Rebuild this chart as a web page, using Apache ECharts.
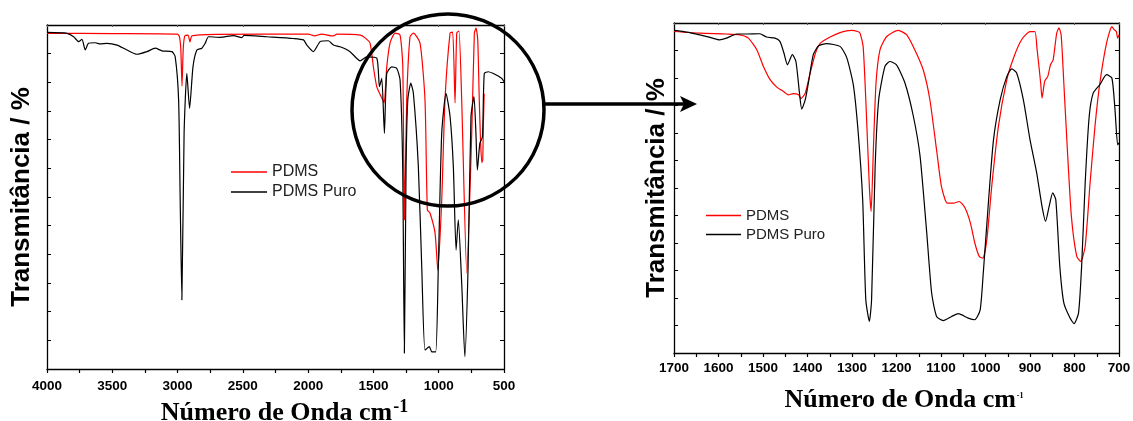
<!DOCTYPE html>
<html>
<head>
<meta charset="utf-8">
<title>FTIR PDMS</title>
<script src="https://cdn.jsdelivr.net/npm/echarts@6/dist/echarts.min.js"></script>
<style>
  html, body { margin: 0; padding: 0; background: #fff; }
  #ir-chart { width: 1133px; height: 421px; }
</style>
</head>
<body>
<div id="ir-chart"></div>
<script>
// legend names
var seriesNames = ['PDMS', 'PDMS Puro'];

// full spectrum (4000 - 500 cm-1), [wavenumber, transmittance a.u.]
var pdmsFull = [
    [4000, 117.1], [3500, 117.0], [3000, 116.8], [2985, 115.8], [2975, 111.3], [2966, 98.7],
    [2957, 111.3], [2945, 116.2], [2920, 116.5], [2905, 114.1], [2890, 116.2], [2700, 116.7],
    [2000, 116.8], [1950, 116.2], [1900, 116.8], [1805, 116.2], [1780, 116.8], [1600, 116.5],
    [1564, 115.5], [1526, 113.7], [1500, 105.3], [1474, 98.4], [1436, 94.5], [1418, 92.8],
    [1398, 105.3], [1373, 113.7], [1334, 117.2], [1296, 116.5], [1275, 105.3], [1263, 52.0],
    [1245, 93.8], [1220, 115.8], [1194, 117.2], [1143, 113.7], [1105, 93.8], [1087, 55.5],
    [1067, 54.4], [1028, 47.4], [1007, 34.5], [977, 58.9], [952, 93.8], [913, 117.2],
    [893, 117.5], [875, 92.8], [862, 117.2], [845, 117.9], [824, 93.8], [785, 33.5],
    [747, 82.3], [727, 117.2], [714, 118.9], [701, 114.8], [690, 95], [680, 80],
    [670, 72], [663, 73], [658, 85], [652, 96]
];
var puroFull = [
    [4000, 117.4], [3847, 117.1], [3796, 115.9], [3758, 114.2], [3732, 115.0], [3707, 111.3],
    [3682, 113.6], [3630, 113.8], [3592, 113.4], [3541, 113.6], [3464, 113.0], [3388, 111.3],
    [3311, 109.8], [3235, 110.7], [3171, 111.9], [3120, 111.0], [3043, 110.7], [3018, 108.9],
    [2992, 93.8], [2980, 59], [2967, 24.1], [2950, 82.3], [2929, 103.1], [2908, 90.9],
    [2882, 105.4], [2852, 111.3], [2814, 111.9], [2789, 113.6], [2763, 115.9], [2674, 115.7],
    [2572, 116.3], [2508, 115.6], [2490, 116.4], [2316, 115.9], [2113, 115.3], [2036, 114.8],
    [2010, 113.0], [1960, 110.7], [1908, 114.2], [1845, 114.5], [1806, 113.0], [1755, 112.4],
    [1679, 110.7], [1602, 107.5], [1551, 108.9], [1474, 108.4], [1454, 98.5], [1436, 101.4],
    [1416, 82.2], [1398, 103.1], [1360, 105.4], [1322, 104.9], [1296, 100.8], [1276, 70.6],
    [1263, 5.5], [1250, 70.6], [1237, 93.8], [1214, 99.7], [1194, 96.2], [1156, 70.6],
    [1130, 35.7], [1105, 6.6], [1072, 7.8], [1053, 6.0], [1023, 6.0], [1003, 35.7],
    [977, 82.2], [944, 96.2], [913, 88.0], [888, 70.6], [867, 41.5], [850, 52.0],
    [824, 29.9], [800, 4.3], [775, 35.7], [753, 88.0], [730, 95.0], [715, 82.2],
    [704, 69.4], [685, 78.7], [665, 81.0], [651, 103.1], [620, 103.7], [582, 103.1],
    [556, 102.5], [518, 101.4], [500, 100.2]
];

// zoomed region (1700 - 700 cm-1)
var pdmsZoom = [
    [1700, 116.9], [1642, 116.3], [1582, 116.0], [1552, 115.7], [1533, 114.5], [1514, 110.3],
    [1499, 104.2], [1484, 99.4], [1469, 96.7], [1454, 95.1], [1443, 93.9], [1432, 94.3],
    [1420, 93.9], [1415, 92.5], [1405, 94.5], [1394, 101.8], [1382, 109.1], [1371, 112.7],
    [1349, 114.9], [1327, 116.5], [1301, 117.3], [1286, 116.8], [1282, 116.3], [1275, 111.5],
    [1269, 92.1], [1261, 60.6], [1257, 51.5], [1252, 73.9], [1246, 98.2], [1237, 110.3],
    [1222, 115.1], [1196, 117.3], [1177, 115.7], [1159, 110.3], [1140, 103.0], [1125, 92.1],
    [1110, 73.9], [1099, 60.6], [1086, 54.5], [1072, 54.5], [1059, 55.1], [1046, 52.7],
    [1034, 47.3], [1024, 40.0], [1014, 35.1], [1006, 34.5], [997, 41.2], [986, 60.6],
    [971, 82.4], [952, 99.4], [937, 107.3], [919, 113.9], [900, 116.9], [889, 116.9],
    [884, 110.3], [876, 98.2], [873, 92.7], [867, 98.8], [860, 100.6], [854, 104.8],
    [848, 106.6], [840, 116.3], [835, 118.2], [830, 115.7], [824, 98.2], [816, 73.9],
    [807, 49.7], [795, 35.1], [786, 33.3], [776, 38.8], [765, 61.8], [754, 82.4],
    [743, 98.2], [728, 112.7], [716, 118.7], [711, 117.6], [706, 116.9], [703, 114.5],
    [700, 115.7]
];
var puroZoom = [
    [1700, 117.3], [1671, 116.7], [1642, 115.7], [1619, 114.8], [1598, 113.9], [1582, 114.5],
    [1559, 116.0], [1537, 116.0], [1507, 116.1], [1492, 114.9], [1473, 114.5], [1462, 113.3],
    [1453, 109.1], [1445, 104.8], [1434, 108.5], [1426, 106.0], [1418, 94.5], [1413, 88.7],
    [1405, 92.1], [1398, 98.2], [1387, 108.5], [1375, 111.7], [1357, 112.5], [1327, 111.5],
    [1312, 107.5], [1297, 97.5], [1286, 80.0], [1276, 55.7], [1269, 19.4], [1261, 11.5],
    [1256, 19.4], [1248, 67.8], [1240, 92.1], [1226, 104.2], [1215, 106.0], [1200, 104.8],
    [1181, 98.2], [1162, 86.0], [1147, 71.5], [1132, 43.6], [1121, 21.8], [1110, 13.3],
    [1095, 11.8], [1076, 13.3], [1061, 14.3], [1039, 12.7], [1024, 12.1], [1012, 15.7],
    [1005, 29.1], [993, 55.7], [982, 77.6], [967, 92.1], [952, 100.6], [941, 103.3],
    [930, 101.8], [915, 92.1], [900, 77.6], [885, 65.5], [873, 53.3], [865, 47.9],
    [857, 53.3], [849, 58.2], [842, 55.7], [833, 31.5], [824, 18.2], [810, 12.7],
    [801, 10.7], [791, 14.5], [784, 31.5], [776, 61.8], [767, 86.0], [758, 94.5],
    [743, 97.6], [728, 101.2], [716, 100.0], [709, 88.5], [703, 75.7], [700, 76.4]
];

var sansFont = 'Liberation Sans, Arial, sans-serif';
var serifFont = 'Liberation Serif, Times New Roman, serif';

function bottomAxis(gridIndex, min, max, interval, labelMargin, nameGap, sup, padLeft) {
    return {
        type: 'value', gridIndex: gridIndex, min: min, max: max, interval: interval,
        inverse: true, position: 'bottom',
        axisLine: { show: true, onZero: false, lineStyle: { color: '#000', width: 1.3 } },
        axisTick: { show: true, inside: false, length: 4, lineStyle: { color: '#000', width: 1.2 } },
        minorTick: { show: true, splitNumber: 2, length: 4, lineStyle: { color: '#000', width: 1.2 } },
        splitLine: { show: false },
        axisLabel: {
            color: '#000', fontWeight: 'bold', fontSize: 13.5, fontFamily: sansFont, margin: labelMargin,
            formatter: function (v) { return String(v); }
        },
        name: '{a|Número de Onda cm}{b|-1}',
        nameLocation: 'middle',
        nameGap: nameGap,
        nameTextStyle: {
            padding: [0, 0, 0, padLeft],
            rich: {
                a: { fontFamily: serifFont, fontWeight: 'bold', fontSize: 26, color: '#000', lineHeight: 30 },
                b: {
                    fontFamily: serifFont, fontWeight: 'bold', fontSize: sup.size, color: '#000',
                    verticalAlign: 'top', lineHeight: sup.size, padding: [sup.drop, 0, 0, 1]
                }
            }
        }
    };
}

function topAxis(gridIndex, min, max, interval) {
    return {
        type: 'value', gridIndex: gridIndex, min: min, max: max, interval: interval,
        inverse: true, position: 'top',
        axisLine: { show: true, onZero: false, lineStyle: { color: '#000', width: 1.3 } },
        axisTick: { show: true, inside: true, length: 2, lineStyle: { color: '#555', width: 1 } },
        splitLine: { show: false },
        axisLabel: { show: false }
    };
}

function sideAxis(gridIndex, position, withName, nameGap) {
    var axis = {
        type: 'value', gridIndex: gridIndex, min: 0, max: 120, interval: 10, position: position,
        axisLine: { show: true, onZero: false, lineStyle: { color: '#000', width: 1.3 } },
        axisTick: { show: true, inside: true, length: 4, lineStyle: { color: '#000', width: 1 } },
        splitLine: { show: false },
        axisLabel: { show: false }
    };
    if (withName) {
        axis.name = 'Transmitância / %';
        axis.nameLocation = 'middle';
        axis.nameGap = nameGap;
        axis.nameTextStyle = { fontFamily: sansFont, fontWeight: 'bold', fontSize: 26, color: '#000' };
    }
    return axis;
}

function spectrum(name, color, data, idx) {
    return {
        name: name, type: 'line', data: data,
        xAxisIndex: idx * 2, yAxisIndex: idx * 2,
        showSymbol: false, smooth: 0.2, animation: false,
        lineStyle: { color: color, width: 1.2 },
        itemStyle: { color: color }
    };
}

var irChart = echarts.init(document.getElementById('ir-chart'));

var option = {
    backgroundColor: '#fff',
    animation: false,
    grid: [
        { left: 47, top: 25, width: 457, height: 344, outerBoundsMode: 'none', containLabel: false },
        { left: 674, top: 23, width: 445, height: 330, outerBoundsMode: 'none', containLabel: false }
    ],
    xAxis: [
        bottomAxis(0, 500, 4000, 500, 10, 25, { size: 18, drop: 0 }, 18),
        topAxis(0, 500, 4000, 500),
        bottomAxis(1, 700, 1700, 100, 8, 32, { size: 8, drop: 7 }, 15),
        topAxis(1, 700, 1700, 100)
    ],
    yAxis: [
        sideAxis(0, 'left', true, 12),
        sideAxis(0, 'right', false),
        sideAxis(1, 'left', true, 4),
        sideAxis(1, 'right', false)
    ],
    legend: [
        {
            data: seriesNames, orient: 'vertical', left: 226, top: 158,
            icon: 'rect', itemWidth: 36, itemHeight: 1.5, itemGap: 2,
            textStyle: { fontFamily: sansFont, fontSize: 16, color: '#222', lineHeight: 18 }
        },
        {
            data: seriesNames, orient: 'vertical', left: 701, top: 202,
            icon: 'rect', itemWidth: 35, itemHeight: 1.5, itemGap: 2,
            textStyle: { fontFamily: sansFont, fontSize: 15, color: '#222', lineHeight: 17 }
        }
    ],
    series: [
        spectrum(seriesNames[0], '#ff0000', pdmsFull, 0),
        spectrum(seriesNames[1], '#000000', puroFull, 0),
        spectrum(seriesNames[0], '#ff0000', pdmsZoom, 1),
        spectrum(seriesNames[1], '#000000', puroZoom, 1)
    ],
    graphic: [
        // circle marking the zoomed region
        { type: 'circle', shape: { cx: 448, cy: 110, r: 96 }, style: { fill: 'none', stroke: '#000', lineWidth: 3.5 }, z: 100 },
        // arrow to the zoomed panel
        { type: 'line', shape: { x1: 544, y1: 104, x2: 684, y2: 104 }, style: { stroke: '#000', lineWidth: 3.5 }, z: 100 },
        { type: 'polygon', shape: { points: [[697, 104], [680, 96], [684, 104], [680, 112]] }, style: { fill: '#000' }, z: 100 }
    ]
};

irChart.setOption(option);
</script>
</body>
</html>
